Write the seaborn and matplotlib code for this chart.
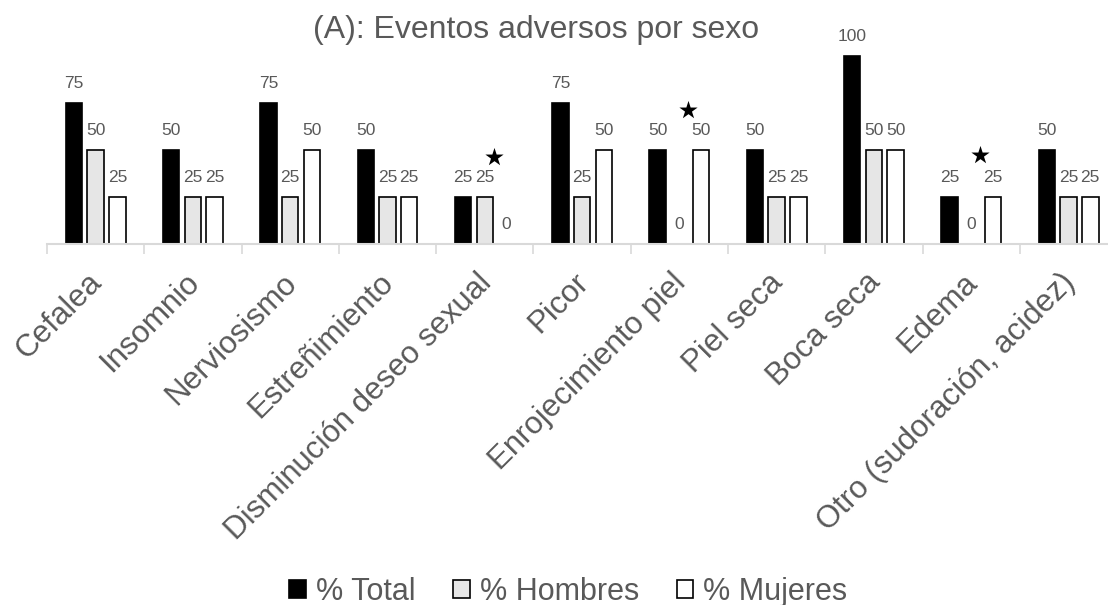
import matplotlib
matplotlib.use("Agg")
import matplotlib.pyplot as plt
import matplotlib.transforms as mtransforms
from matplotlib.patches import Patch
import numpy as np
import pandas as pd
import seaborn as sns

# Adverse events by sex (% of patients)
categories = [
    "Cefalea", "Insomnio", "Nerviosismo", "Estreñimiento",
    "Disminución deseo sexual", "Picor", "Enrojecimiento piel",
    "Piel seca", "Boca seca", "Edema", "Otro (sudoración, acidez)",
]
total = [75, 50, 75, 50, 25, 75, 50, 50, 100, 25, 50]
hombres = [50, 25, 25, 25, 25, 25, 0, 25, 50, 0, 25]
mujeres = [25, 25, 50, 25, 0, 50, 50, 25, 50, 25, 25]
series_names = ["% Total", "% Hombres", "% Mujeres"]

# Categories flagged with a star, and the height of each star
star_categories = ["Disminución deseo sexual", "Enrojecimiento piel", "Edema"]
star_values = [46, 71, 47]

title = "(A): Eventos adversos por sexo"

sns.set_theme(style="white")
plt.rcParams["font.family"] = ["Liberation Sans", "DejaVu Sans"]

text_color = "#595959"
axis_color = "#d9d9d9"
fills = ["#000000", "#e6e6e6", "#ffffff"]

df = pd.DataFrame({
    "categoria": categories * 3,
    "serie": np.repeat(series_names, len(categories)),
    "valor": total + hombres + mujeres,
})

fig = plt.figure(figsize=(11.08, 6.05), dpi=100)
ax = fig.add_axes([0.0424, 0.5975, 0.9659, 0.3418])

sns.barplot(
    data=df, x="categoria", y="valor", hue="serie",
    order=categories, hue_order=series_names,
    palette=fills, edgecolor="black", linewidth=1.2,
    width=0.67, gap=0.24, legend=False, ax=ax,
)

for container in ax.containers:
    for patch in container:
        if patch.get_height() == 0:
            patch.set_linewidth(0)
    ax.bar_label(container, fmt="{:.0f}", padding=8.6,
                 fontsize=12.5, color=text_color)

# Stars over the flagged categories
star_x = [categories.index(c) + 0.09 for c in star_categories]
ax.scatter(star_x, star_values, marker="*", s=190, color="black",
           linewidths=0, zorder=5)

ax.set_xlim(-0.5, len(categories) - 0.5)
ax.set_ylim(0, 110)
ax.set_xlabel("")
ax.set_ylabel("")
ax.set_yticks([])

for side in ["left", "right", "top"]:
    ax.spines[side].set_visible(False)
ax.spines["bottom"].set_color(axis_color)
ax.spines["bottom"].set_linewidth(1.5)

ax.set_xticks(np.arange(-0.5, len(categories) + 0.5, 1.0), minor=True)
ax.tick_params(axis="x", which="minor", length=7.5, width=1.2,
               color=axis_color, direction="out", bottom=True)
ax.tick_params(axis="x", which="major", length=0, pad=25)

ax.set_xticks(range(len(categories)))
ax.set_xticklabels(categories, rotation=45, ha="right", va="center",
                   rotation_mode="anchor", fontsize=22.5, color=text_color)
shift = mtransforms.ScaledTranslation(2 / 100, 0, fig.dpi_scale_trans)
for lbl in ax.get_xticklabels():
    lbl.set_transform(lbl.get_transform() + shift)

fig.text(0.484, 1 - 30 / 605, title, ha="center", va="center",
         fontsize=23, color=text_color)

handles = [Patch(facecolor=f, edgecolor="black", linewidth=1.2) for f in fills]
fig.legend(handles, series_names, loc="center", bbox_to_anchor=(0.513, 0.022),
           ncol=3, frameon=False, fontsize=22, labelcolor=text_color,
           handlelength=0.53, handleheight=0.53, handletextpad=0.33,
           columnspacing=1.25)

fig.savefig("out.png", dpi=100)
